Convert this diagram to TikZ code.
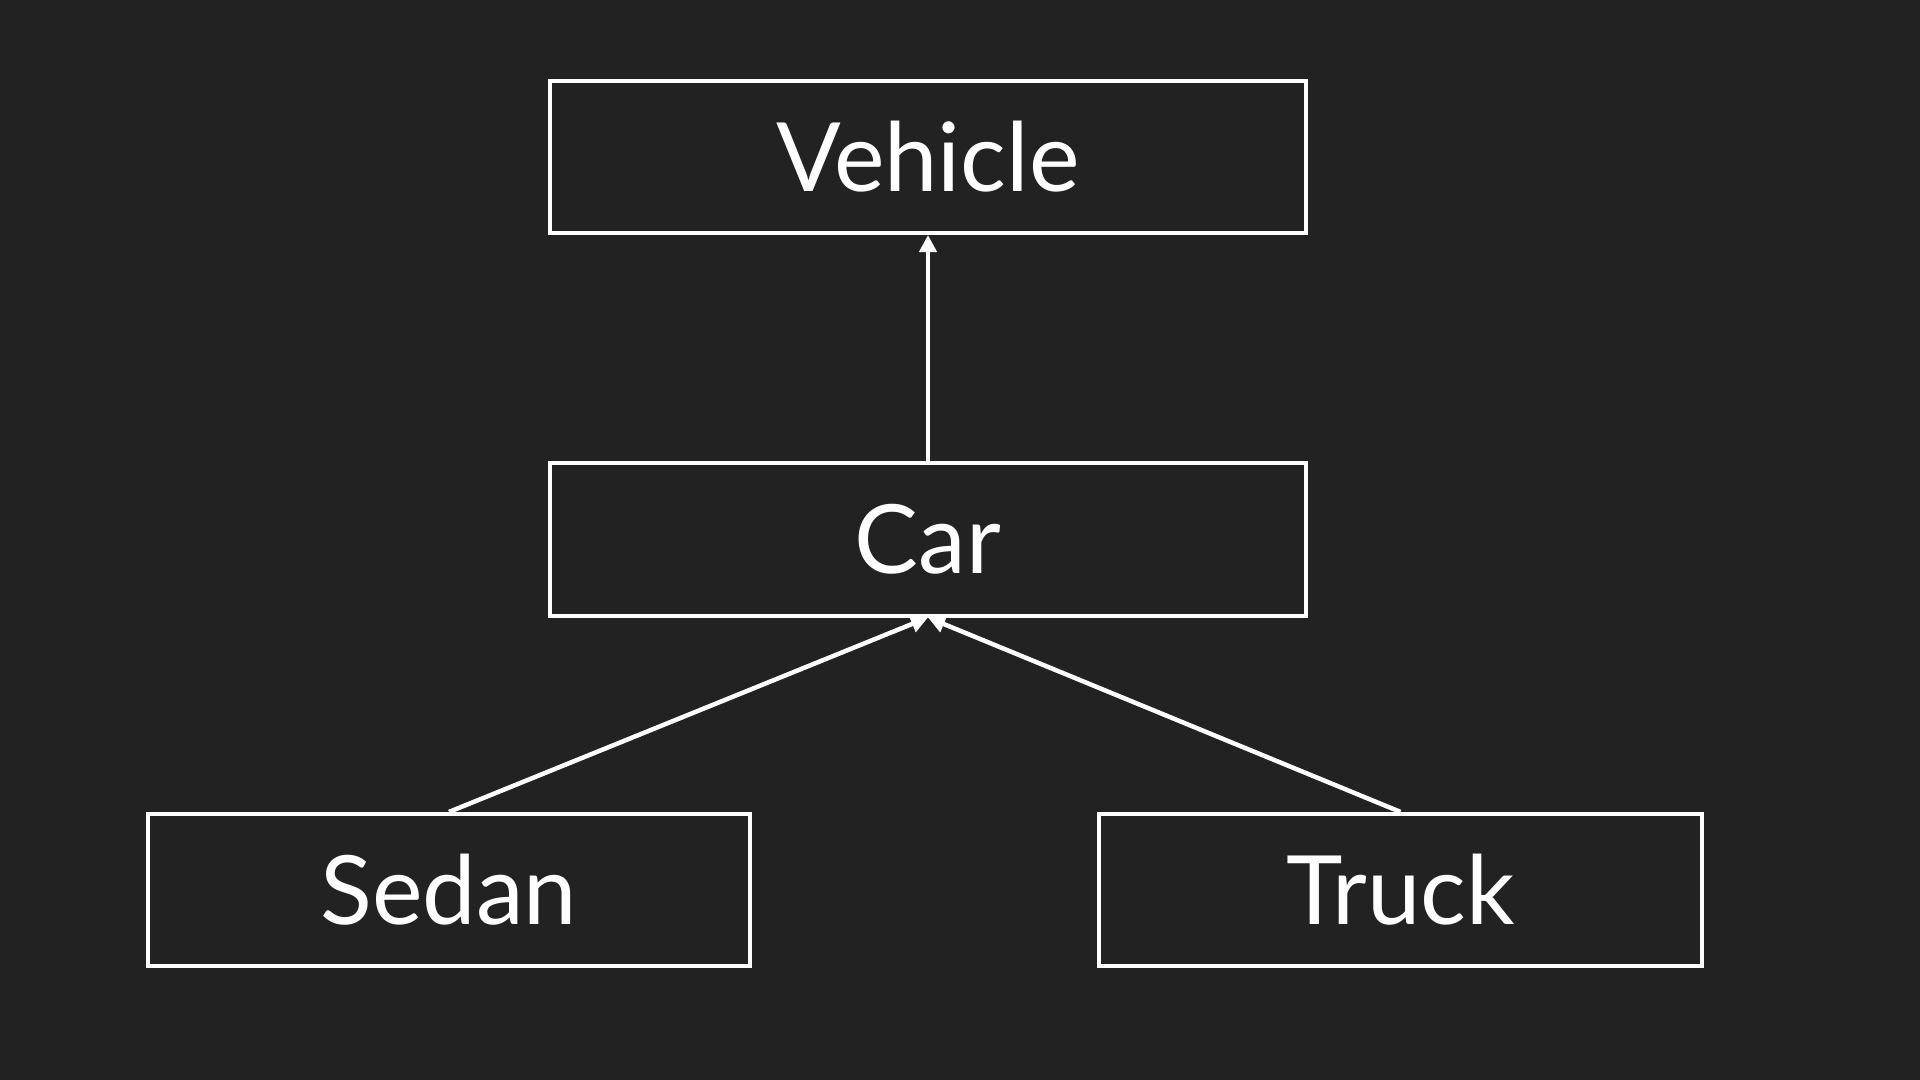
\documentclass[tikz,border=0pt]{standalone}
\usepackage{fontspec}
\setmainfont{Lato}
\usepackage{xcolor}
\usetikzlibrary{arrows.meta}
\definecolor{bg}{HTML}{222222}

\begin{document}
\begin{tikzpicture}[x=0.01cm,y=-0.01cm,
	cls/.style={draw=white,line width=0.04cm,text=white,minimum height=1.52cm,inner sep=0pt,font=\fontsize{27.2}{32}\selectfont},
	inherit/.style={draw=white,line width=0.045cm,-{Triangle[width=0.17cm,length=0.17cm]}}]
	\fill[bg] (0,0) rectangle (1920,1080);
	\useasboundingbox (0,0) rectangle (1920,1080);
	\node[cls,minimum width=7.56cm] (vehicle) at (928,157) {Vehicle};
	\node[cls,minimum width=7.56cm] (car) at (928,539.5) {Car};
	\node[cls,minimum width=6.02cm] (sedan) at (449,890) {Sedan};
	\node[cls,minimum width=6.03cm] (truck) at (1400.5,890) {Truck};
	\draw[inherit] (car) -- (vehicle);
	\draw[inherit] (sedan.north) -- (car.south);
	\draw[inherit] (truck.north) -- (car.south);
\end{tikzpicture}
\end{document}
